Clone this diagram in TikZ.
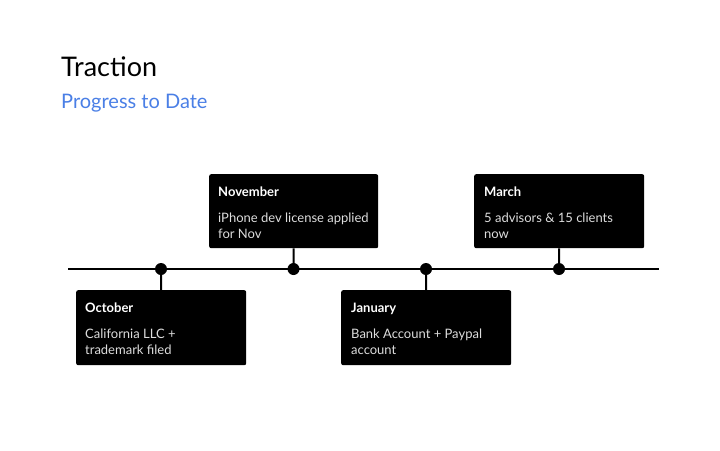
\documentclass[tikz,border=0pt]{standalone}
\usepackage{fontspec}
\setmainfont{Lato}
\definecolor{subblue}{HTML}{4A7FE6}
\definecolor{bodygrey}{HTML}{DDDDDD}
\begin{document}
\begin{tikzpicture}[x=1pt,y=-1pt,
  evbox/.style={fill=black,draw=none,rounded corners=2pt,minimum width=170pt,minimum height=75pt,inner sep=0pt},
  dot/.style={circle,fill=black,minimum size=12pt,inner sep=0pt},
  head/.style={anchor=base west,inner sep=0pt,text=white,font=\fontsize{13}{16}\selectfont\bfseries},
  body/.style={anchor=base west,inner sep=0pt,text=bodygrey,font=\fontsize{13}{16}\selectfont,align=left},
  tl/.style={line width=2pt,draw=black},
  conn/.style={line width=2pt,draw=black}]
\useasboundingbox (0,0) rectangle (720,450);
\fill[white] (0,0) rectangle (720,450);
\node[anchor=base west,inner sep=0pt,font=\fontsize{27}{30}\selectfont] (title) at (61,76) {Traction};
\node[anchor=base west,inner sep=0pt,text=subblue,font=\fontsize{20}{22}\selectfont] (sub) at (61,108) {Progress to Date};
% boxes
\node[evbox,anchor=north west] (b1) at (76,290) {};
\node[evbox,anchor=north west,minimum width=169pt,minimum height=74pt] (b2) at (209,174) {};
\node[evbox,anchor=north west] (b3) at (341,290) {};
\node[evbox,anchor=north west,minimum height=74pt] (b4) at (474,174) {};
% texts (body anchored at the baseline of its last line)
\node[head] (h1) at (85,312) {October};
\node[body] (t1) at (85,354) {California LLC +\\trademark filed};
\node[head] (h2) at (218,196) {November};
\node[body] (t2) at (218,238) {iPhone dev license applied\\for Nov};
\node[head] (h3) at (351,312) {January};
\node[body] (t3) at (351,354) {Bank Account + Paypal\\account};
\node[head] (h4) at (484,196) {March};
\node[body] (t4) at (484,238) {5 advisors \& 15 clients\\now};
% timeline
\coordinate (L) at (68,269);
\coordinate (R) at (659,269);
\draw[tl] (L) -- (R);
\node[dot] (d1) at (161,269) {};
\node[dot] (d2) at (293.5,269) {};
\node[dot] (d3) at (426,269) {};
\node[dot] (d4) at (559,269) {};
\draw[conn] (d1.center) -- (b1.north);
\draw[conn] (d2.center) -- (b2.south);
\draw[conn] (d3.center) -- (b3.north);
\draw[conn] (d4.center) -- (b4.south);
\end{tikzpicture}
\end{document}
